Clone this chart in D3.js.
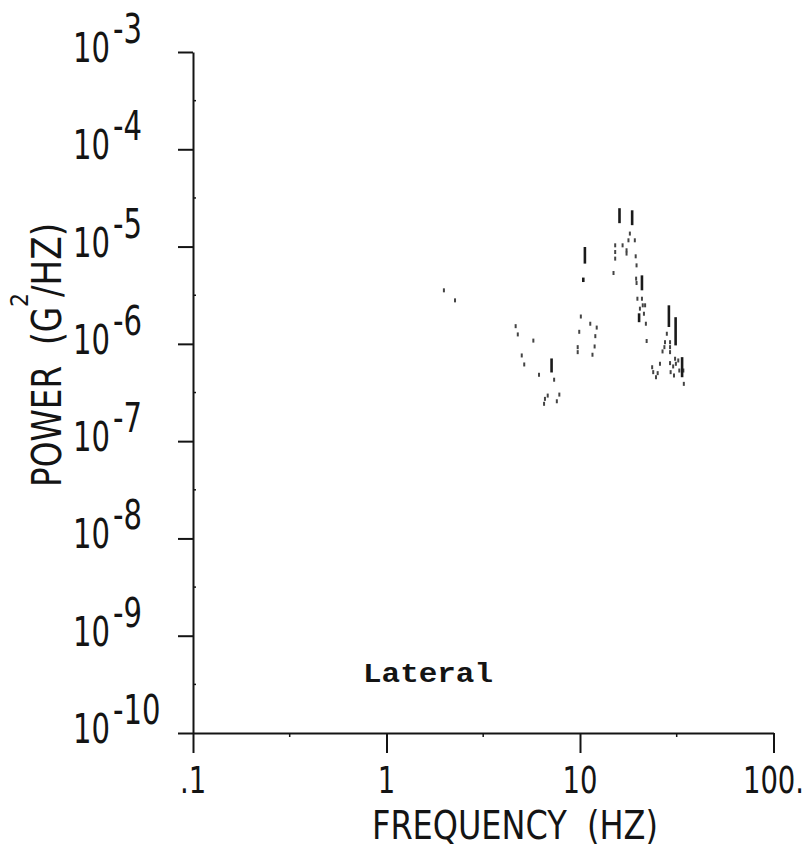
<!DOCTYPE html>
<html><head><meta charset="utf-8">
<script src="https://cdn.jsdelivr.net/npm/d3@7"></script>
<style>html,body{margin:0;padding:0;background:#fff;}svg{display:block;}text{white-space:pre;}</style>
</head><body>
<svg id="chart" width="808" height="849"></svg>
<script>
// ---------- data ----------
const chartTitle = "Lateral";
const xAxisTitle = "FREQUENCY\u00A0\u00A0(HZ)";
const yTitleMain = "POWER\u00A0\u00A0(G";
const yTitleSup = "2";
const yTitleEnd = "/HZ)";

const xTickValues = [0.1, 1, 10, 100];
const xTickLabels = [".1", "1", "10", "100."];
const xMinorTickValues = [0.316, 3.16, 31.6];

const yTickValues = [1e-3, 1e-4, 1e-5, 1e-6, 1e-7, 1e-8, 1e-9, 1e-10];
const yTickBase = "10";
const yTickExponents = ["-3", "-4", "-5", "-6", "-7", "-8", "-9", "-10"];
const yMinorTickValues = [3.16e-4, 3.16e-5, 3.16e-6, 3.16e-7, 3.16e-8, 3.16e-9, 3.16e-10];

// scattered spectral points (Hz, G^2/Hz)
const pointFreq = [1.98, 2.26,
  4.65, 4.77, 5.74, 5.00, 5.15, 6.14, 7.35, 6.59, 6.52, 6.81, 7.82, 7.59,
  10.1, 9.91, 11.3, 12.2, 12.0, 9.73, 9.73, 11.9, 11.6,
  14.9,
  18.1, 17.8, 19.2, 15.2, 15.2, 15.2, 16.6, 17.4, 17.4, 19.4, 19.6,
  19.5, 19.6, 19.8, 20.9, 21.1, 20.4, 21.7, 21.4, 21.9, 22.1,
  28.1, 27.5, 27.3, 29.2, 29.2, 29.2, 26.7, 25.9, 23.6, 23.9, 24.7, 25.2,
  31.0, 31.3, 29.2, 29.4, 30.3, 30.6, 32.2, 32.6, 34.2, 34.4];
const pointPower = [3.55e-6, 2.80e-6,
  1.52e-6, 1.25e-6, 1.08e-6, 7.60e-7, 6.14e-7, 4.81e-7, 4.28e-7, 2.72e-7, 2.42e-7, 2.94e-7, 3.01e-7, 2.57e-7,
  1.91e-6, 1.33e-6, 1.61e-6, 1.47e-6, 1.20e-6, 9.25e-7, 8.22e-7, 9.40e-7, 7.73e-7,
  5.35e-6,
  1.36e-5, 1.16e-5, 1.16e-5, 1.03e-5, 8.79e-6, 7.52e-6, 1.03e-5, 9.16e-6, 8.47e-6, 7.94e-6, 6.41e-6,
  4.68e-6, 4.22e-6, 2.91e-6, 2.91e-6, 2.49e-6, 2.30e-6, 2.49e-6, 2.04e-6, 1.61e-6, 1.07e-6,
  1.27e-6, 1.04e-6, 9.25e-7, 1.04e-6, 9.25e-7, 8.22e-7, 8.36e-7, 6.24e-7, 5.75e-7, 5.12e-7, 4.54e-7, 5.00e-7,
  7.03e-7, 6.24e-7, 6.34e-7, 5.12e-7, 5.86e-7, 4.73e-7, 6.75e-7, 5.32e-7, 5.32e-7, 3.88e-7];

// short vertical strokes (Hz, upper and lower G^2/Hz)
const strokeFreq = [7.13, 10.6, 10.4, 16.0, 18.6, 20.9, 20.2, 28.8, 31.2, 33.7];
const strokePowerHigh = [7.08e-7, 9.9e-6, 4.80e-6, 2.48e-5, 2.36e-5, 5.06e-6, 2.06e-6, 2.49e-6, 1.88e-6, 7.30e-7];
const strokePowerLow = [5.08e-7, 6.68e-6, 4.32e-6, 1.74e-5, 1.66e-5, 3.55e-6, 1.67e-6, 1.49e-6, 9.64e-7, 4.54e-7];

// ---------- layout ----------
const svg = d3.select("#chart");
const INK = "#141414";
const LABEL_FONT = "'DejaVu Sans Condensed', 'Liberation Sans Narrow', 'DejaVu Sans', sans-serif";
const MONO_FONT = "'Liberation Mono', 'DejaVu Sans Mono', monospace";

const x = d3.scaleLog().domain([0.1, 100]).range([193, 773.5]);
const y = d3.scaleLog().domain([1e-10, 1e-3]).range([733, 52]);

function textWidth(str, size, family) {
  const t = svg.append("text").attr("font-family", family).attr("font-size", size).text(str);
  const w = t.node().getComputedTextLength();
  t.remove();
  return w;
}
// place a horizontally condensed text with transform so its box is correct
function placeText(parent, str, px, py, size, k, anchor) {
  return parent.append("text")
    .attr("transform", `translate(${px},${py}) scale(${k},1)`)
    .attr("font-size", size).attr("text-anchor", anchor || "start").text(str);
}

// ---------- axes ----------
const yAxis = d3.axisLeft(y).tickValues(yTickValues).tickSize(15).tickSizeOuter(0).tickFormat("");
const gy = svg.append("g").attr("transform", "translate(193,0)").call(yAxis);
const xAxis = d3.axisBottom(x).tickValues(xTickValues).tickSize(20).tickSizeOuter(0).tickFormat("");
const gx = svg.append("g").attr("transform", "translate(0,733)").call(xAxis);
[gx, gy].forEach(g => {
  g.select(".domain").attr("stroke", INK).attr("stroke-width", 2);
  g.selectAll(".tick line").attr("stroke", INK).attr("stroke-width", 2);
});

// minor ticks
svg.append("g").selectAll("line").data(xMinorTickValues).join("line")
  .attr("x1", d => x(d)).attr("x2", d => x(d)).attr("y1", 733).attr("y2", 737)
  .attr("stroke", INK).attr("stroke-width", 1.5);
svg.append("g").selectAll("line").data(yMinorTickValues).join("line")
  .attr("x1", 193).attr("x2", 196).attr("y1", d => y(d)).attr("y2", d => y(d))
  .attr("stroke", INK).attr("stroke-width", 1.5);

// y tick labels: "10" with raised exponent of the same size
const ySize = 41;
const kY = 18.5 / textWidth("0", ySize, LABEL_FONT);
const yLab = svg.append("g").attr("font-family", LABEL_FONT).attr("fill", INK);
yTickValues.forEach((v, i) => {
  placeText(yLab, yTickBase, 73, y(v) + 10, ySize, kY);
  placeText(yLab, yTickExponents[i], 113, y(v) - 9, ySize, kY);
});

// x tick labels
const xSize = 37;
const kX = 17.5 / textWidth("0", xSize, LABEL_FONT);
const xLab = svg.append("g").attr("font-family", LABEL_FONT).attr("fill", INK);
xTickValues.forEach((v, i) => {
  placeText(xLab, xTickLabels[i], x(v), 793, xSize, kX, "middle");
});

// axis titles
const tSize = 39;
const titleG = svg.append("g").attr("font-family", LABEL_FONT).attr("fill", INK);
placeText(titleG, xAxisTitle, 372, 839, tSize, 286 / textWidth(xAxisTitle, tSize, LABEL_FONT));

const yTitleG = titleG.append("g").attr("transform", "translate(61,487) rotate(-90)");
placeText(yTitleG, yTitleMain, 0, 0, 41, 180 / textWidth(yTitleMain, 41, LABEL_FONT));
placeText(yTitleG, yTitleSup, 180, -33, 24, 14 / textWidth(yTitleSup, 24, LABEL_FONT));
placeText(yTitleG, yTitleEnd, 190, 0, 41, 74 / textWidth(yTitleEnd, 41, LABEL_FONT));

// chart title
svg.append("g").attr("font-family", MONO_FONT).attr("font-weight", "bold").attr("fill", INK).call(g =>
  placeText(g, chartTitle, 363, 682, 28, 130 / textWidth(chartTitle, 28, MONO_FONT)));

// ---------- data marks ----------
const pts = pointFreq.map((f, i) => ({ f, p: pointPower[i] }));
svg.append("g").selectAll("rect").data(pts).join("rect")
  .attr("x", d => x(d.f) - 1).attr("y", d => y(d.p) - 2)
  .attr("width", 2).attr("height", 4).attr("fill", "#444");

const strokes = strokeFreq.map((f, i) => ({ f, hi: strokePowerHigh[i], lo: strokePowerLow[i] }));
svg.append("g").selectAll("line").data(strokes).join("line")
  .attr("x1", d => x(d.f)).attr("x2", d => x(d.f))
  .attr("y1", d => y(d.hi)).attr("y2", d => y(d.lo))
  .attr("stroke", "#1a1a1a").attr("stroke-width", 2.6);
</script>
</body></html>
